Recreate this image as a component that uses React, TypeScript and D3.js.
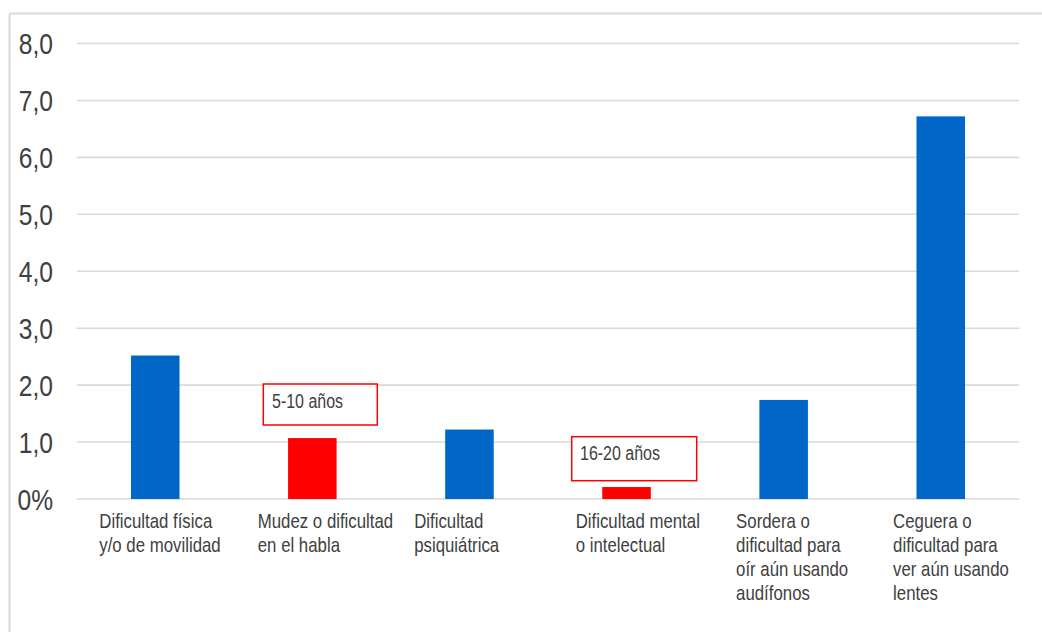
import React from "react";
import * as d3 from "d3";

const categories: string[][] = [
  ["Dificultad física", "y/o de movilidad"],
  ["Mudez o dificultad", "en el habla"],
  ["Dificultad", "psiquiátrica"],
  ["Dificultad mental", "o intelectual"],
  ["Sordera o", "dificultad para", "oír aún usando", "audífonos"],
  ["Ceguera o", "dificultad para", "ver aún usando", "lentes"],
];
const values: number[] = [2.52, 1.07, 1.22, 0.21, 1.74, 6.72];
const highlighted: boolean[] = [false, true, false, true, false, false];
const yTicks: number[] = [0, 1, 2, 3, 4, 5, 6, 7, 8];
const yTickLabels: string[] = ["0%", "1,0", "2,0", "3,0", "4,0", "5,0", "6,0", "7,0", "8,0"];
const annotations: { index: number; text: string }[] = [
  { index: 1, text: "5-10 años" },
  { index: 3, text: "16-20 años" },
];

const W = 1042;
const H = 632;
const FONT = "'Liberation Sans', Arial, sans-serif";
const NARROW = 0.82;
const TEXT = "#404040";
const GRID = "#d9d9d9";
const BLUE = "#0066c8";
const RED = "#ff0000";
const labelDx = [-31.7, -30.3, -31, -26.6, -23.3, -23.4];
const annoBox = [
  { x: 263.3, y: 384, w: 114, h: 41, tx: 272, ty: 407.5 },
  { x: 571.7, y: 436.7, w: 125, h: 44, tx: 580, ty: 460 },
];

export default function App() {
  const x = d3
    .scaleBand<number>()
    .domain(values.map((_, i) => i))
    .range([76.7, 1019.3])
    .paddingInner(0.691)
    .paddingOuter(0.3455);
  const y = d3.scaleLinear().domain([0, 8]).range([499, 43.5]);

  return (
    <svg
      width={W}
      height={H}
      viewBox={`0 0 ${W} ${H}`}
      style={{ position: "fixed", left: 0, top: 0, background: "#fff" }}
    >
      <rect x={0} y={0} width={W} height={H} fill="#fff" />
      {/* frame */}
      <line x1={9.5} x2={W} y1={13.5} y2={13.5} stroke={GRID} strokeWidth={2} />
      <line x1={9.5} x2={9.5} y1={13.5} y2={H} stroke={GRID} strokeWidth={2} />

      {/* gridlines and y labels */}
      {yTicks.map((t, i) => (
        <g key={t}>
          <line
            x1={76.7}
            x2={1019.3}
            y1={y(t)}
            y2={y(t)}
            stroke={GRID}
            strokeWidth={1.6}
          />
          <g transform={`translate(53,${y(t) + 10.5}) scale(${NARROW},1)`}>
            <text
              x={0}
              y={0}
              textAnchor="end"
              fontFamily={FONT}
              fontSize={30}
              fill={TEXT}
            >
              {yTickLabels[i]}
            </text>
          </g>
        </g>
      ))}

      {/* bars */}
      {values.map((v, i) => (
        <rect
          key={i}
          x={x(i)}
          y={y(v)}
          width={x.bandwidth()}
          height={y(0) - y(v)}
          fill={highlighted[i] ? RED : BLUE}
        />
      ))}

      {/* category labels */}
      {categories.map((lines, i) => (
        <g
          key={i}
          transform={`translate(${(x(i) as number) + labelDx[i]},0) scale(${NARROW},1)`}
        >
          <text fontFamily={FONT} fontSize={20.5} fill={TEXT}>
            {lines.map((ln, j) => (
              <tspan key={j} x={0} y={527.7 + j * 24}>
                {ln}
              </tspan>
            ))}
          </text>
        </g>
      ))}

      {/* annotations */}
      {annotations.map((a, k) => (
        <g key={a.index}>
          <rect
            x={annoBox[k].x}
            y={annoBox[k].y}
            width={annoBox[k].w}
            height={annoBox[k].h}
            fill="#fff"
            stroke={RED}
            strokeWidth={1.5}
          />
          <g transform={`translate(${annoBox[k].tx},${annoBox[k].ty}) scale(${NARROW},1)`}>
            <text x={0} y={0} fontFamily={FONT} fontSize={19.5} fill={TEXT}>
              {a.text}
            </text>
          </g>
        </g>
      ))}
    </svg>
  );
}
